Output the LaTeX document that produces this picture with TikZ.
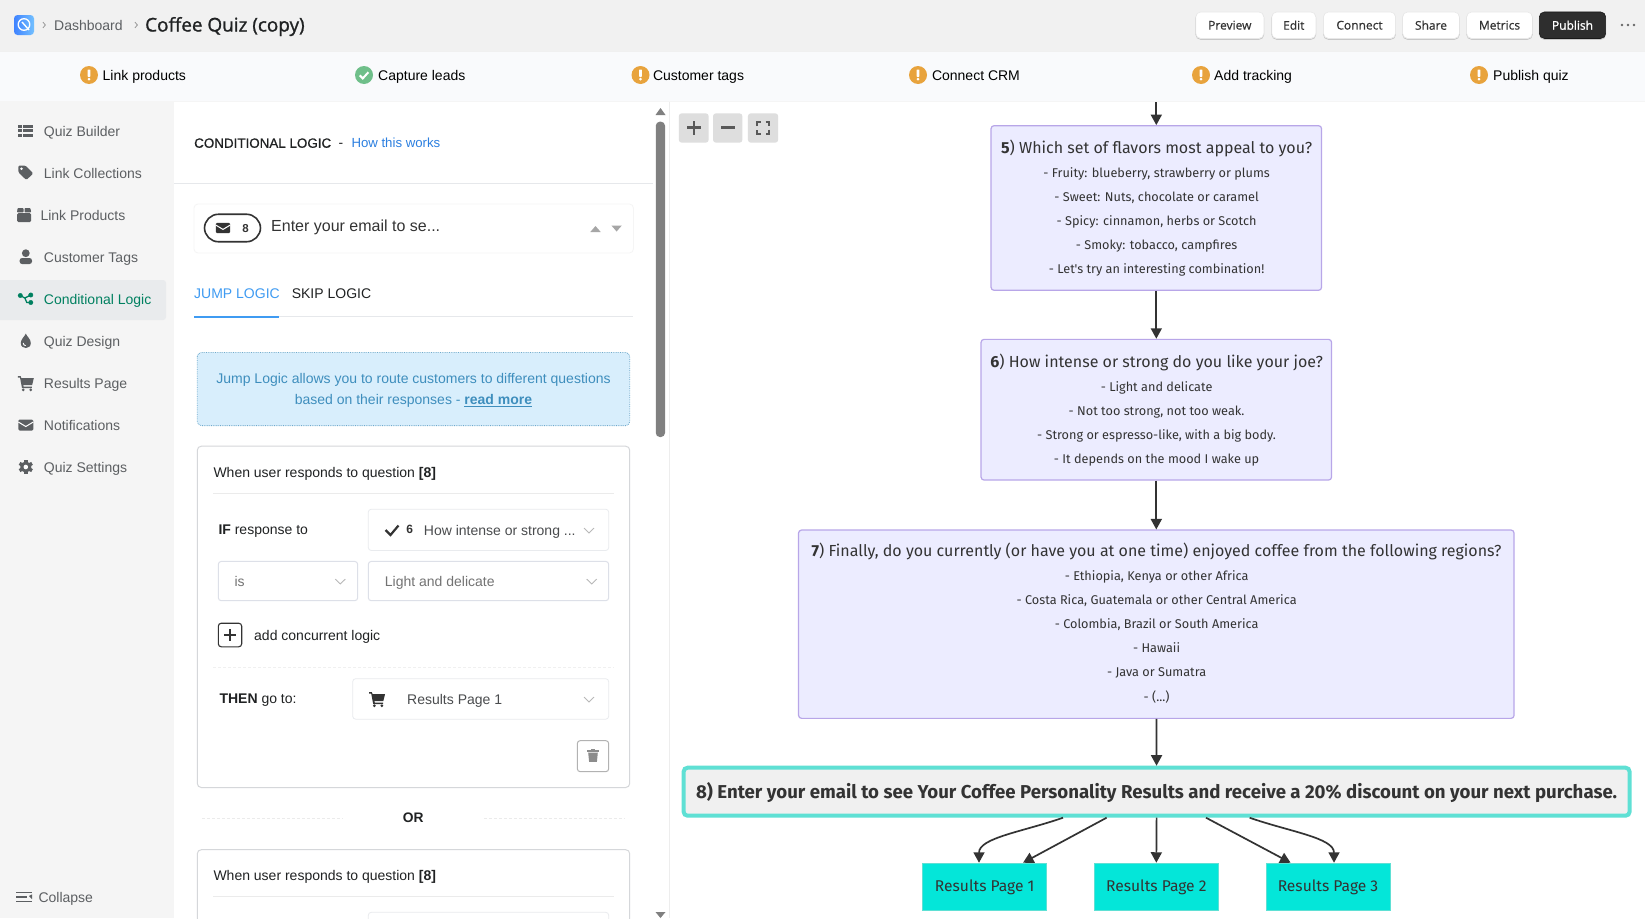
\documentclass[tikz,border=0pt]{standalone}
\usepackage{fontspec}
\setmainfont{Liberation Sans}
\newfontfamily\mer{Fira Sans}
\newfontfamily\uif[FakeBold=0.5]{Open Sans}
\newfontfamily\uifb[FakeBold=1.2]{Open Sans}
\newfontfamily\semi[FakeBold=0.6]{Liberation Sans}
\usetikzlibrary{arrows.meta,calc}
\definecolor{hdr}{HTML}{F1F1F1}
\definecolor{bar}{HTML}{F9FAFC}
\definecolor{side}{HTML}{F5F5F5}
\definecolor{sel}{HTML}{E9EBED}
\definecolor{ink}{HTML}{202223}
\definecolor{grayt}{HTML}{5C5F62}
\definecolor{green}{HTML}{008060}
\definecolor{warnc}{HTML}{E8A33D}
\definecolor{okc}{HTML}{6FBF8A}
\definecolor{linkb}{HTML}{2B7FE0}
\definecolor{tabb}{HTML}{3F9BF2}
\definecolor{rule}{HTML}{E6E8EB}
\definecolor{infof}{HTML}{D8EEFC}
\definecolor{infot}{HTML}{3E8EBD}
\definecolor{cardb}{HTML}{D5D7DA}
\definecolor{selb}{HTML}{E9EBEE}
\definecolor{selc}{HTML}{DDE0E8}
\definecolor{flowf}{HTML}{ECECFF}
\definecolor{flowb}{HTML}{B8A6E8}
\definecolor{teal}{HTML}{5FE0D4}
\definecolor{resf}{HTML}{04E6D9}
\definecolor{edge}{HTML}{333333}
\tikzset{
  x=1pt,y=-1pt,
  fs/.style={font=\fontsize{#1}{#1}\selectfont},
  tl/.style={anchor=west,inner sep=0pt,text height=14.5pt,text depth=3pt,fs=#1},
  tl/.default=14,
  tc/.style={anchor=center,inner sep=0pt,text height=14.5pt,text depth=3pt,fs=#1},
  tc/.default=14,
  mtitle/.style={anchor=center,inner sep=0pt,text height=15pt,text depth=4pt,text=edge,font=\mer\fontsize{16}{16}\selectfont},
  mline/.style={anchor=center,inner sep=0pt,text height=12pt,text depth=3pt,text=edge,font=\mer\fontsize{12.7}{12.7}\selectfont},
  flow/.style={rectangle,rounded corners=3pt,draw=flowb,line width=1.2pt,fill=flowf,inner sep=0pt},
  resnode/.style={rectangle,draw=teal,line width=1pt,fill=resf,inner sep=0pt,minimum width=124pt,minimum height=47.5pt,text=edge,font=\mer\fontsize{15.6}{15.6}\selectfont},
  conn/.style={draw=edge,line width=1.7pt,-{Triangle[length=10.5pt,width=11pt]}},
  btn/.style={rectangle,rounded corners=5pt,fill=white,draw=black!9,line width=.6pt,inner sep=0pt,minimum height=26.5pt,text=edge,font=\uif\fontsize{12}{12}\selectfont,
    preaction={draw=black!22,line width=.8pt,transform canvas={yshift=-1pt}}},
  selbox/.style={draw=selb,line width=.8pt,rounded corners=3pt,fill=white},
  selbox2/.style={draw=selc,line width=1pt,rounded corners=3pt,fill=white},
  cardbox/.style={draw=cardb,line width=1pt,rounded corners=4pt,fill=white},
  chev/.style={draw=black!28,line width=.9pt},
  warn/.pic={\fill[warnc] (0,0) circle (9); \fill[white,rounded corners=.5pt] (-1.3,-5.5) rectangle (1.3,1.8); \fill[white] (0,4.2) circle (1.5);},
  okay/.pic={\fill[okc] (0,0) circle (9); \draw[white,line width=2pt] (-4.3,.3) -- (-1.2,3.4) -- (4.4,-2.8);},
  listic/.pic={\foreach \yy in {-5.8,-1.6,2.6}{\fill[pic actions] (-7.5,\yy) rectangle (-3.9,\yy+3); \fill[pic actions] (-2.7,\yy) rectangle (7.5,\yy+3);}},
  tagic/.pic={\fill[pic actions,rounded corners=1.3pt] (-7.5,-6.5) -- (-.5,-6.5) -- (7.5,1.5) -- (.5,8) -- (-7.5,.2) -- cycle; \fill[white] (-4.3,-3.3) circle (1.3);},
  boxic/.pic={\fill[pic actions,rounded corners=1.3pt] (-7,-1.8) rectangle (7.2,7); \fill[pic actions,rounded corners=.8pt] (-6.4,-7) -- (-.5,-7) -- (-.5,-2.6) -- (-7,-2.6) -- cycle; \fill[pic actions,rounded corners=.8pt] (.6,-7) -- (6.4,-7) -- (7.2,-2.6) -- (.6,-2.6) -- cycle;},
  personic/.pic={\fill[pic actions] (0,-3.8) circle (3.9); \fill[pic actions,rounded corners=2.5pt] (-6.2,7) -- (-6.2,1) -- (6.2,1) -- (6.2,7) -- cycle;},
  branchic/.pic={\draw[pic actions,fill=none,line width=1.3pt] (-5.5,-3.5) -- (-1,-1) -- (5,-4) (-1,-1) -- (1,3.5) -- (5,3.5); \foreach \p in {(-5.5,-3.5),(5,-4),(5,3.5)}{\fill[pic actions] \p circle (2.2);}},
  dropic/.pic={\fill[pic actions] (0,-7.5) .. controls (1,-4.5) and (5,-2) .. (5,2) .. controls (5,5.5) and (2.5,7) .. (0,7) .. controls (-2.5,7) and (-5,5.5) .. (-5,2) .. controls (-5,-2) and (-1,-4.5) .. (0,-7.5) -- cycle; \draw[white,line width=.9pt] (-2.6,2) .. controls (-2.6,3.6) and (-1.5,4.6) .. (0,4.6);},
  cartic/.pic={\fill[pic actions] (-8,-7) -- (-5.2,-7) -- (-4.4,-4.8) -- (8,-4.8) -- (6.3,2.2) -- (-2.6,2.2) -- (-2.2,3.6) -- (6,3.6) -- (6,5) -- (-3.8,5) -- (-5.8,-5.4) -- (-8,-5.4) -- cycle; \fill[pic actions] (-2.6,6.8) circle (1.5); \fill[pic actions] (4.9,6.8) circle (1.5);},
  envic/.pic={\fill[pic actions,rounded corners=1.3pt] (-7.5,-5.5) rectangle (7.5,5.5); \draw[white,line width=1pt] (-7.5,-3) -- (0,1.5) -- (7.5,-3);},
  gearic/.pic={\fill[pic actions] (0,0) circle (5.6); \foreach \a in {0,60,...,300}{\fill[pic actions,rotate=\a] (-1.7,-7.2) rectangle (1.7,-4);} \fill[white] (0,0) circle (2.3);},
  trashic/.pic={\fill[pic actions] (-4.8,-3.2) -- (4.8,-3.2) -- (3.9,6) -- (-3.9,6) -- cycle; \fill[pic actions] (-6,-5.8) rectangle (6,-4); \fill[pic actions] (-2,-6.8) rectangle (2,-5);},
  chevsel/.pic={\draw[chev] (-5,-2.4) -- (0,2.4) -- (5,-2.4);},
}
\begin{document}
\begin{tikzpicture}
\clip (0,0) rectangle (1645,918);
\useasboundingbox (0,0) rectangle (1645,918);
\fill[white] (0,0) rectangle (1645,918);
% bars
\fill[hdr] (0,0) rectangle (1645,51.7);
\fill[bar] (0,51.7) rectangle (1645,101.7);
\draw[black!6,line width=.7pt] (0,51.7) -- (1645,51.7);
\draw[black!4,line width=.7pt] (0,101.7) -- (1645,101.7);
\fill[side] (0,102) rectangle (174,918);
% logo
\shade[left color=blue!65!cyan!75,right color=cyan!55!blue!55,rounded corners=3.5pt] (14,15) rectangle (34,35);
\draw[white,line width=1.3pt] (24,24.5) circle (5.8);
\draw[white,line width=1.4pt] (22,22) -- (29,30);
\node[tl,text=grayt] (dash) at (54,25) {Dashboard};
\draw[chev,line width=.8pt,black!40] (43,22.2) -- (45.4,25) -- (43,27.8);
\draw[chev,line width=.8pt,black!40] (135,22.2) -- (137.4,25) -- (135,27.8);
\node[anchor=west,inner sep=0pt,text height=17pt,text depth=4pt,text=ink,font=\uifb\fontsize{18.9}{18.9}\selectfont] (title) at (145,25) {Coffee Quiz (copy)};
% buttons
\node[btn,minimum width=68pt] (bprev) at (1229.8,25.2) {Preview};
\node[btn,minimum width=44pt] (bedit) at (1293.8,25.2) {Edit};
\node[btn,minimum width=72pt] (bconn) at (1359.5,25.2) {Connect};
\node[btn,minimum width=56.7pt] (bshare) at (1431,25.2) {Share};
\node[btn,minimum width=65.7pt] (bmet) at (1499.5,25.2) {Metrics};
\node[btn,minimum width=66.3pt,fill=black!82,draw=black!90,text=white,font=\uifb\fontsize{12}{12}\selectfont] (bpub) at (1572.5,25.2) {Publish};
\foreach \xx in {1622,1628,1634}{\fill[black!60] (\xx,25) circle (1.4);}
% checklist
\pic at (89,75) {warn};
\node[tl,text=black] (c1) at (102.5,75) {Link products};
\pic at (364,75) {okay};
\node[tl,text=black] (c2) at (378,75) {Capture leads};
\pic at (640.5,75) {warn};
\node[tl,text=black] (c3) at (652.8,75) {Customer tags};
\pic at (918,75) {warn};
\node[tl,text=black] (c4) at (931.8,75) {Connect CRM};
\pic at (1201,75) {warn};
\node[tl,text=black] (c5) at (1214,75) {Add tracking};
\pic at (1479,75) {warn};
\node[tl,text=black] (c6) at (1493,75) {Publish quiz};
% sidebar
\fill[sel,rounded corners=3pt] (-5,280) rectangle (166,320);
\pic[fill=grayt] at (25.8,131) {listic};
\node[tl,text=grayt] (s1) at (43.7,131) {Quiz Builder};
\pic[fill=grayt] at (25.8,172) {tagic};
\node[tl,text=grayt] (s2) at (43.7,173) {Link Collections};
\pic[fill=grayt] at (24,215) {boxic};
\node[tl,text=grayt] (s3) at (40.3,215) {Link Products};
\pic[fill=grayt] at (25.8,257) {personic};
\node[tl,text=grayt] (s4) at (43.7,257) {Customer Tags};
\pic[draw=green,fill=green] at (25.8,299) {branchic};
\node[tl,text=green] (s5) at (43.7,299) {Conditional Logic};
\pic[fill=grayt] at (25.8,341) {dropic};
\node[tl,text=grayt] (s6) at (43.7,341) {Quiz Design};
\pic[fill=grayt] at (25.8,383) {cartic};
\node[tl,text=grayt] (s7) at (43.7,383) {Results Page};
\pic[fill=grayt] at (25.8,425) {envic};
\node[tl,text=grayt] (s8) at (43.7,425) {Notifications};
\pic[fill=grayt] at (25.8,467) {gearic};
\node[tl,text=grayt] (s9) at (43.7,467) {Quiz Settings};
\fill[grayt] (16,891.5) rectangle (32,893.2);
\fill[grayt] (16,896) rectangle (27,897.7);
\fill[grayt] (29,896) -- (32,894.4) -- (32,899) -- cycle;
\fill[grayt] (16,900.5) rectangle (32,902.2);
\node[tl,text=grayt] (coll) at (38.3,896.5) {Collapse};
% panel head
\draw[black!7,line width=.7pt] (669,102) -- (669,918);
\node[tl=13.4,text=ink,font=\semi\fontsize{13.4}{13.4}\selectfont] (h1) at (194,142) {CONDITIONAL LOGIC};
\node[tc=13.8,text=ink] (h2) at (341,142) {-};
\node[tl=13.2,text=linkb] (h3) at (351.3,142) {How this works};
\draw[rule,line width=.8pt] (174,183.3) -- (653,183.3);
% question selector
\draw[draw=black!4,fill=white,rounded corners=4pt,line width=.8pt] (194,204) rectangle (633.4,253);
\node[draw=edge,line width=1.6pt,rectangle,rounded corners=14pt,inner sep=0pt,minimum width=56pt,minimum height=27.5pt,fill=white] (pill) at (232.5,228) {};
\pic[fill=edge,scale=.95] at (223,228) {envic};
\node[tc=11.5,text=edge] (p8) at (245.5,226.5) {\textbf{8}};
\node[tl=16,text=edge,text height=16pt,text depth=4pt] (qtxt) at (271,225.5) {Enter your email to se...};
\fill[black!35] (590.3,232) -- (600.7,232) -- (595.5,226) -- cycle;
\fill[black!35] (611.4,225.5) -- (621.8,225.5) -- (616.6,231.5) -- cycle;
% tabs
\node[tl,text=tabb] (tab1) at (194,293) {JUMP LOGIC};
\node[tl,text=ink] (tab2) at (291.6,293) {SKIP LOGIC};
\draw[rule,line width=1.8pt] (194,316.5) -- (633.4,316.5);
\draw[tabb,line width=2pt] (194,316.5) -- (279,316.5);
% info
\draw[draw=infot!75,densely dotted,fill=infof,line width=.8pt,rounded corners=4pt] (197.3,352.5) rectangle (629.7,425.6);
\node[tc,text=infot] (i1) at (413.5,378) {Jump Logic allows you to route customers to different questions};
\node[tc,text=infot] (i2) at (413.5,399) {based on their responses - \textbf{\underline{read more}}};
% card 1
\draw[cardbox] (197.3,446.2) rectangle (629.7,787.5);
\node[tl,text=ink] (k1) at (213.3,472) {When user responds to question \textbf{[8]}};
\draw[black!8,line width=.8pt] (213,493.5) -- (614,493.5);
\node[tl,text=ink] (k2) at (218.3,529) {\textbf{IF} response to};
\draw[selbox] (368.3,509.2) rectangle (608.7,550.5);
\draw[edge,line width=2.2pt] (385.5,530) -- (390.5,535) -- (398.5,525.5);
\node[tc=12,text=edge] (k3) at (409.7,528) {\textbf{6}};
\node[tl,text=grayt!80!black] (k4) at (423.7,529.5) {How intense or strong ...};
\pic at (589,530.5) {chevsel};
\draw[selbox2] (218.3,561.4) rectangle (357.7,600.7);
\node[tl,text=black!55] (k5) at (234.3,581) {is};
\pic at (340.3,581.5) {chevsel};
\draw[selbox2] (368.3,561.4) rectangle (608.7,600.7);
\node[tl,text=black!55] (k6) at (384.7,581) {Light and delicate};
\pic at (591.7,581.5) {chevsel};
\draw[edge,line width=1.1pt,rounded corners=3pt] (218.3,623.2) rectangle (241.7,646.8);
\draw[edge,line width=2pt] (224,635) -- (236,635) (230,629) -- (230,641);
\node[tl,text=ink] (k7) at (254,635) {add concurrent logic};
\draw[black!6,densely dashed,line width=.8pt] (213,667.5) -- (614,667.5);
\node[tl,text=ink] (k8) at (219.3,698) {\textbf{THEN} go to:};
\draw[selbox] (352.7,678.7) rectangle (608.7,719.2);
\pic[fill=edge] at (377,699) {cartic};
\node[tl,text=grayt!80!black] (k9) at (407,699) {Results Page 1};
\pic at (589,699.5) {chevsel};
\draw[draw=black!30,fill=white,line width=1pt,rounded corners=3pt] (577.3,740.6) rectangle (608.7,771.7);
\pic[fill=black!45] at (593,755.8) {trashic};
% or
\node[tc=13.8,text=ink] (orl) at (413.3,817) {\textbf{OR}};
\draw[black!8,densely dashed,line width=.7pt] (202,818.6) -- (343.3,818.6) (484,818.6) -- (625,818.6);
% card 2
\draw[cardbox] (197.3,849.7) rectangle (629.7,940);
\node[tl,text=ink] (m1) at (213.3,875) {When user responds to question \textbf{[8]}};
\draw[black!8,line width=.8pt] (213,896) -- (614,896);
\draw[selbox] (368.3,912.3) rectangle (608.7,950);
% scrollbar
\fill[black!50,rounded corners=4pt] (655.8,121.7) rectangle (665,437);
\fill[black!50] (655.5,115) -- (665.5,115) -- (660.5,108) -- cycle;
\fill[black!50] (655.5,912) -- (665.5,912) -- (660.5,918) -- cycle;
% zoom buttons
\fill[black!13,rounded corners=3pt] (678.8,113.3) rectangle (708.7,142.7);
\fill[black!13,rounded corners=3pt] (713,113.3) rectangle (742.4,142.7);
\fill[black!13,rounded corners=3pt] (747.9,113.3) rectangle (778.2,142.7);
\draw[black!65,line width=2.3pt] (687,127.6) -- (700.5,127.6) (693.7,121) -- (693.7,134.5);
\draw[black!65,line width=2.3pt] (721,127.6) -- (734.5,127.6);
\draw[black!65,line width=1.6pt] (756.8,126) -- (756.8,121.8) -- (760.5,121.8) (765.5,121.8) -- (769.2,121.8) -- (769.2,126) (769.2,129.5) -- (769.2,133.7) -- (765.5,133.7) (760.5,133.7) -- (756.8,133.7) -- (756.8,129.5);
% flow nodes
\coordinate (top) at (1156.3,102);
\node[flow,minimum width=330.5pt,minimum height=164.6pt] (n5) at (1156.3,208) {};
\node[mtitle] (n5t) at (1156.6,147.7) {\textbf{5}) Which set of flavors most appeal to you?};
\node[mline] (n5a) at (1156.6,172.7) {- Fruity: blueberry, strawberry or plums};
\node[mline] (n5b) at (1156.6,196.7) {- Sweet: Nuts, chocolate or caramel};
\node[mline] (n5c) at (1156.6,220.7) {- Spicy: cinnamon, herbs or Scotch};
\node[mline] (n5d) at (1156.6,244.7) {- Smoky: tobacco, campfires};
\node[mline] (n5e) at (1156.6,268.7) {- Let's try an interesting combination!};
\node[flow,minimum width=350.5pt,minimum height=140.7pt] (n6) at (1156.3,409.7) {};
\node[mtitle] (n6t) at (1156.6,361.7) {\textbf{6}) How intense or strong do you like your joe?};
\node[mline] (n6a) at (1156.6,386.7) {- Light and delicate};
\node[mline] (n6b) at (1156.6,410.7) {- Not too strong, not too weak.};
\node[mline] (n6c) at (1156.6,434.7) {- Strong or espresso-like, with a big body.};
\node[mline] (n6d) at (1156.6,458.7) {- It depends on the mood I wake up};
\node[flow,minimum width=715.5pt,minimum height=188.3pt] (n7) at (1156.3,624.2) {};
\node[mtitle] (n7t) at (1156.6,551) {\textbf{7}) Finally, do you currently (or have you at one time) enjoyed coffee from the following regions?};
\node[mline] (n7a) at (1156.6,576) {- Ethiopia, Kenya or other Africa};
\node[mline] (n7b) at (1156.6,600) {- Costa Rica, Guatemala or other Central America};
\node[mline] (n7c) at (1156.6,624) {- Colombia, Brazil or South America};
\node[mline] (n7d) at (1156.6,648) {- Hawaii};
\node[mline] (n7e) at (1156.6,672) {- Java or Sumatra};
\node[mline] (n7f) at (1156.6,696.6) {- (...)};
\node[rectangle,rounded corners=4pt,draw=teal,line width=4pt,fill=black!6,inner sep=0pt,minimum width=946pt,minimum height=48pt,text=edge,text height=18pt,text depth=4pt,font=\mer\bfseries\fontsize{18.65}{18.65}\selectfont] (n8) at (1156.6,791.7) {8) Enter your email to see Your Coffee Personality Results and receive a 20\% discount on your next purchase.};
\node[resnode] (r1) at (984.7,887) {Results Page 1};
\node[resnode] (r2) at (1156.3,887) {Results Page 2};
\node[resnode] (r3) at (1328,887) {Results Page 3};
% connectors
\draw[conn] (top) -- (n5);
\draw[conn] (n5) -- (n6);
\draw[conn] (n6) -- (n7);
\draw[conn] (n7) -- (n8);
\draw[conn] ([xshift=-93.6pt]n8.south) .. controls +(-40,14) and +(0,-25) .. ([xshift=-5.7pt]r1.north);
\draw[conn] ([xshift=-50pt]n8.south) -- ([xshift=38.3pt]r1.north);
\draw[conn] (n8.south) -- (r2.north);
\draw[conn] ([xshift=49.4pt]n8.south) -- ([xshift=-37.4pt]r3.north);
\draw[conn] ([xshift=93pt]n8.south) .. controls +(40,14) and +(0,-25) .. ([xshift=6pt]r3.north);
\end{tikzpicture}
\end{document}
